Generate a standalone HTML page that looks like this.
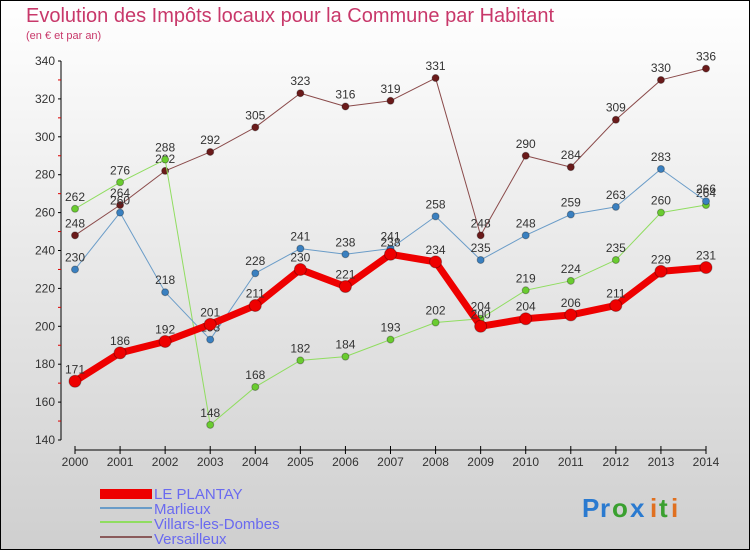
<!DOCTYPE html>
<html><head><meta charset="utf-8"><style>
body{margin:0;width:750px;height:550px;overflow:hidden}
svg{display:block;font-family:"Liberation Sans","DejaVu Sans",sans-serif}
</style></head><body>
<svg width="750" height="550">
<defs><linearGradient id="bg" x1="0" y1="0" x2="0" y2="1"><stop offset="0" stop-color="#ffffff"/><stop offset="1" stop-color="#cfcfcf"/></linearGradient></defs>
<rect x="0.5" y="0.5" width="749" height="549" fill="url(#bg)" stroke="#000"/>
<text x="26" y="22" font-size="20" fill="#c8386a">Evolution des Impôts locaux pour la Commune par Habitant</text>
<text x="26" y="39" font-size="11" fill="#c8386a">(en € et par an)</text>
<g id="axes"></g>
<g id="series"></g>
<g>
<rect x="100" y="489" width="52" height="10" fill="#e00"/>
<text x="154" y="499" font-size="15" fill="#6a6af0">LE PLANTAY</text>
<rect x="100" y="507" width="52" height="2" fill="#6a9cc8"/>
<text x="154" y="514" font-size="15" fill="#6a6af0">Marlieux</text>
<rect x="100" y="521" width="52" height="2" fill="#90dd60"/>
<text x="154" y="529" font-size="15" fill="#6a6af0">Villars-les-Dombes</text>
<rect x="100" y="536" width="52" height="2" fill="#8a5a5a"/>
<text x="154" y="544" font-size="15" fill="#6a6af0">Versailleux</text>
</g>
<g font-size="26" font-weight="bold">
<text x="582" y="517" fill="#2a7ad0">P</text><text x="600" y="517" fill="#2a7ad0">r</text><text x="612" y="517" fill="#3aa030">o</text><text x="630" y="517" fill="#2a7ad0">x</text><text x="650" y="517" fill="#e07020">i</text><text x="659" y="517" fill="#3aa030">t</text><text x="671" y="517" fill="#e07020">i</text>
</g>
</svg>
<script>
const years=[2000,2001,2002,2003,2004,2005,2006,2007,2008,2009,2010,2011,2012,2013,2014];
const yTicks=[140,160,180,200,220,240,260,280,300,320,340];
const lePlantay=[171,186,192,201,211,230,221,238,234,200,204,206,211,229,231];
const marlieux=[230,260,218,193,228,241,238,241,258,235,248,259,263,283,266];
const villars=[262,276,288,148,168,182,184,193,202,204,219,224,235,260,264];
const versailleux=[248,264,282,292,305,323,316,319,331,248,290,284,309,330,336];
const NS="http://www.w3.org/2000/svg";
function xs(i){return 75+i*(706-75)/(years.length-1);}
function ys(v){return 440-(v-140)*(440-61)/200;}
function mk(t,a,p){const e=document.createElementNS(NS,t);for(const k in a)e.setAttribute(k,a[k]);p.appendChild(e);return e;}
const ax=document.getElementById('axes');
let e=mk('line',{x1:61,y1:61,x2:61,y2:440,stroke:'#000'},ax);


yTicks.forEach((v,k)=>{
 mk('line',{x1:58,x2:61,y1:ys(v),y2:ys(v),stroke:'#000'},ax);
 if(k<yTicks.length-1) mk('line',{x1:58,x2:61,y1:ys(v+10),y2:ys(v+10),stroke:'#d00'},ax);
 const t=mk('text',{x:55,y:ys(v)+4,'text-anchor':'end','font-size':12,fill:'#333'},ax);t.textContent=v;
 
 
});
e=mk('line',{x1:75,y1:450,x2:706,y2:450,stroke:'#000'},ax);


years.forEach((y,i)=>{
 mk('line',{x1:xs(i),x2:xs(i),y1:446,y2:454,stroke:'#000'},ax);
 const t=mk('text',{x:xs(i),y:466,'text-anchor':'middle','font-size':12,fill:'#333'},ax);t.textContent=y;
 
 
});
const sg=document.getElementById('series');
function draw(name,data,color,w,r,dot){
 const g=mk('g',{},sg);
 
 
 const p=mk('polyline',{points:data.map((v,i)=>xs(i)+','+ys(v)).join(' '),fill:'none',stroke:color,'stroke-width':w,'stroke-linejoin':'round'},g);
 
 data.forEach((v,i)=>{
  const c=mk('circle',{cx:xs(i),cy:ys(v),r:r,fill:dot,stroke:'rgba(0,0,0,0.3)','stroke-width':1},g);
  
  
  const t=mk('text',{x:xs(i),y:ys(v)-8,'text-anchor':'middle','font-size':12,fill:'#333'},g);t.textContent=v;
  
  
 });
}
draw('versailleux',versailleux,'#8a4a4a',1,3.5,'#6a1a1a');
draw('villars',villars,'#90dd60',1,3.5,'#6acc30');
draw('marlieux',marlieux,'#6a9cc8',1,3.5,'#3a80c0');
draw('le-plantay',lePlantay,'#e00',7,6,'#e00');
</script>
</body></html>
